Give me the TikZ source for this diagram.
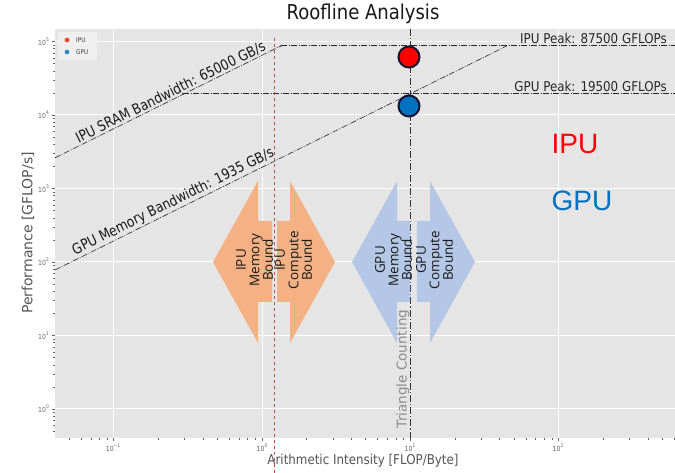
\documentclass[tikz,border=0pt]{standalone}
\usepackage{fontspec}
\setmainfont{DejaVu Sans}
\newfontfamily\mpl[FakeStretch=0.88]{DejaVu Sans}
\newfontfamily\slab[FakeStretch=0.85]{DejaVu Sans}
\newfontfamily\osans{Open Sans}
\newfontfamily\arialf{Liberation Sans}
\newcommand\fsz[1]{\fontsize{#1}{#1}\selectfont}
\newcommand\tkl[1]{10\raisebox{0.55em}{\fsz{5}#1}}
\definecolor{plotbg}{HTML}{E5E5E5}
\definecolor{axgray}{HTML}{555555}
\definecolor{ticgray}{HTML}{666666}
\definecolor{legred}{HTML}{E24A33}
\definecolor{legblue}{HTML}{348ABD}
\definecolor{arrorange}{HTML}{F4B183}
\definecolor{arrblue}{HTML}{B4C7E7}
\definecolor{dotnavy}{HTML}{141430}
\definecolor{ipured}{HTML}{FF0000}
\definecolor{gpublue}{HTML}{0070C0}
\definecolor{iputline}{HTML}{C0504D}
\begin{document}
\begin{tikzpicture}[x=1pt,y=1pt,
  roof/.style={draw=black!85, line width=0.6pt, dash pattern=on 6pt off 1.5pt on 1pt off 1.5pt},
  gridline/.style={draw=white, line width=1pt},
  tickmark/.style={draw=ticgray, line width=0.4pt},
  ticklab/.style={text=ticgray, font=\mpl\fsz{7}, inner sep=1pt},
  arrtext/.style={font=\osans\fsz{13.5}, align=center, text=black!90, rotate=90, inner sep=0pt},
  bigdot/.style={draw=dotnavy, line width=2pt, circle, minimum size=21pt, inner sep=0pt},
  slantlab/.style={font=\slab\fsz{14.5}, text=black!90, rotate=26.37, anchor=south, inner sep=1.2pt},
  peaklab/.style={font=\mpl\fsz{13.5}, text=black!85, anchor=base east, inner sep=0pt}]
\useasboundingbox (0,0) rectangle (675,473);
\fill[white] (0,0) rectangle (675,473);
% plot area
\fill[plotbg] (55,35) rectangle (675,444);
\foreach \gx in {113,262,410,558} \draw[gridline] (\gx,35) -- (\gx,444);
\foreach \gy in {64,137.5,211,284.5,358,431.5} \draw[gridline] (55,\gy) -- (675,\gy);
% minor ticks
\foreach \d in {-2,...,2} {
  \foreach \m in {2,...,9} {
    \pgfmathsetmacro\xx{262+148.3*(\d+log10(\m))}
    \ifdim\xx pt>56pt \ifdim\xx pt<675pt \draw[tickmark] (\xx,35) -- (\xx,33); \fi\fi
  }
}
\foreach \d in {-1,...,5} {
  \foreach \m in {2,...,9} {
    \pgfmathsetmacro\yy{64+73.5*(\d+log10(\m))}
    \ifdim\yy pt>35pt \ifdim\yy pt<444pt \draw[tickmark] (55,\yy) -- (53,\yy); \fi\fi
  }
}
\foreach \gx in {113,262,410,558} \draw[tickmark] (\gx,35) -- (\gx,31.5);
\foreach \gy in {64,137.5,211,284.5,358,431.5} \draw[tickmark] (55,\gy) -- (51.5,\gy);
% tick labels
\node[ticklab, anchor=north] (xt1) at (113,30) {\tkl{−1}};
\node[ticklab, anchor=north] (xt2) at (262,30) {\tkl{0}};
\node[ticklab, anchor=north] (xt3) at (410,30) {\tkl{1}};
\node[ticklab, anchor=north] (xt4) at (558,30) {\tkl{2}};
\node[ticklab, anchor=east] (yt0) at (50,64) {\tkl{0}};
\node[ticklab, anchor=east] (yt1) at (50,137.5) {\tkl{1}};
\node[ticklab, anchor=east] (yt2) at (50,211) {\tkl{2}};
\node[ticklab, anchor=east] (yt3) at (50,284.5) {\tkl{3}};
\node[ticklab, anchor=east] (yt4) at (50,358) {\tkl{4}};
\node[ticklab, anchor=east] (yt5) at (50,431.5) {\tkl{5}};
% legend
\fill[plotbg!60!white] (58,413) rectangle (97,441);
\fill[legred] (67,433) circle (2.4);
\fill[legblue] (67,421) circle (2.4);
\node[font=\mpl\fsz{6.5}, text=black!75, anchor=west, inner sep=0pt] (legipu) at (76,433) {IPU};
\node[font=\mpl\fsz{6.5}, text=black!75, anchor=west, inner sep=0pt] (leggpu) at (76,421) {GPU};
% roof lines
\coordinate (ipustart) at (55,315.2);
\coordinate (ipuknee) at (281.1,427.2);
\coordinate (ipuend) at (675,427.2);
\coordinate (gpustart) at (55,203);
\coordinate (gpuend) at (507,427.2);
\coordinate (gpupk0) at (183,379.3);
\coordinate (gpupk1) at (675,379.3);
\draw[roof] (ipustart) -- (ipuknee);
\draw[roof] (ipuknee) -- (ipuend);
\draw[roof] (gpustart) -- (gpuend);
\draw[roof] (gpupk0) -- (gpupk1);
\fill[black!70] (ipuknee) circle (1.1);
\fill[black!70] (gpupk0) circle (1.1);
% vertical line for kernel
\coordinate (kt) at (410,444);
\coordinate (kb) at (410,35);
\draw[draw=black!80, line width=0.8pt, dash pattern=on 7pt off 2pt on 1.2pt off 2pt] (kt) -- (kb);
% arrow shapes
\fill[arrorange] (213,211) -- (258,292) -- (258,252) -- (272,252) -- (272,171) -- (258,171) -- (258,130) -- cycle;
\fill[arrorange] (335,211) -- (290,292) -- (290,252) -- (277,252) -- (277,171) -- (290,171) -- (290,130) -- cycle;
\fill[arrblue] (352,211) -- (397,292) -- (397,252) -- (410,252) -- (410,171) -- (397,171) -- (397,130) -- cycle;
\fill[arrblue] (475,211) -- (430,292) -- (430,252) -- (417,252) -- (417,171) -- (430,171) -- (430,130) -- cycle;
\node[arrtext] (ipumem) at (254.5,213) {IPU\\Memory\\Bound};
\node[arrtext] (ipucomp) at (293.5,213) {IPU\\Compute\\Bound};
\node[arrtext] (gpumem) at (393.5,213) {GPU\\Memory\\Bound};
\node[arrtext] (gpucomp) at (434.5,213) {GPU\\Compute\\Bound};
% red dashed line
\coordinate (rt) at (274,435);
\coordinate (rb) at (274,0);
\draw[iputline, line width=1pt, dash pattern=on 3.5pt off 2.5pt] (rt) -- (rb);
% kernel label
\node[font=\fsz{13.5}, text=black!45, rotate=90, inner sep=0pt] (tri) at (403,104) {Triangle Counting};
% dots
\node[bigdot, fill=ipured] (ipudot) at (409,416) {};
\node[bigdot, fill=gpublue] (gpudot) at (409,367) {};
% line labels
\node[slantlab] (ipubw) at (174,374) {IPU SRAM Bandwidth: 65000 GB/s};
\node[slantlab] (gpubw) at (177,263.5) {GPU Memory Bandwidth: 1935 GB/s};
\node[peaklab] (ipupk) at (667,429.5) {IPU Peak: 87500 GFLOPs};
\node[peaklab] (gpupk) at (667,381.5) {GPU Peak: 19500 GFLOPs};
% big labels
\node[font=\arialf\fsz{28}, text=ipured, inner sep=0pt] (bigipu) at (575,329) {IPU};
\node[font=\arialf\fsz{28}, text=gpublue, inner sep=0pt] (biggpu) at (582,272) {GPU};
% titles
\node[font=\mpl\fsz{20.5}, text=black!90, inner sep=0pt] (title) at (363,459) {Roofline Analysis};
\node[font=\mpl\fsz{13.5}, text=axgray, inner sep=0pt] (xlab) at (363,12) {Arithmetic Intensity [FLOP/Byte]};
\node[font=\fsz{14}, text=axgray, rotate=90, inner sep=0pt] (ylab) at (28,240) {Performance [GFLOP/s]};
\end{tikzpicture}
\end{document}
